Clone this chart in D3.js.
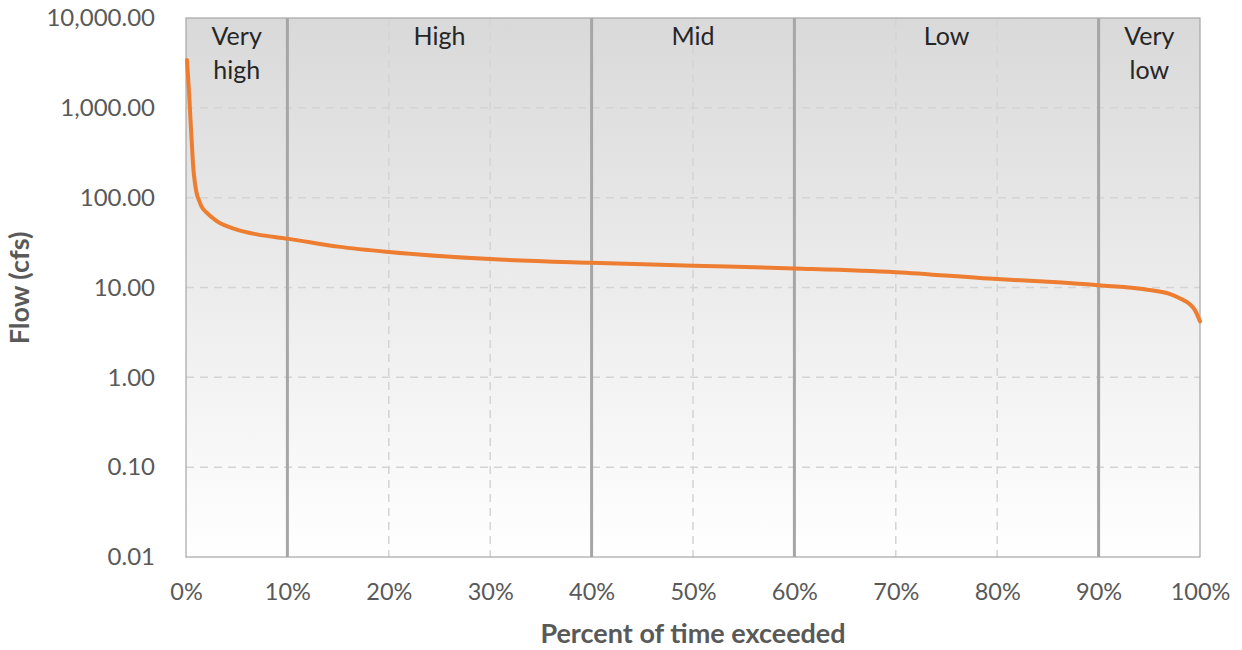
<!DOCTYPE html>
<html><head><meta charset="utf-8">
<script src="https://cdn.jsdelivr.net/npm/d3@7"></script>
<style>body{margin:0;background:#fff}svg{display:block}</style>
</head><body>
<svg id="c" width="1242" height="650"></svg>
<script>
const pct = [0.1, 0.3, 0.46, 0.6, 0.72, 0.88, 1.05, 1.3, 1.55, 2.04, 3, 5, 7, 10, 15, 20, 30, 40, 50, 60, 70, 80, 85, 90, 95, 97, 98, 99, 99.5, 100];
const flow = [3400, 1500, 680, 356, 214, 146, 112, 92, 79, 68, 55, 44, 39, 35, 28.5, 24.8, 20.7, 18.8, 17.5, 16.3, 14.8, 12.4, 11.6, 10.6, 9.4, 8.5, 7.6, 6.5, 5.6, 4.2];
const yTicks = [0.01, 0.1, 1, 10, 100, 1000, 10000];
const xTicks = [0, 10, 20, 30, 40, 50, 60, 70, 80, 90, 100];
const zoneBounds = [10, 40, 60, 90];
const zones = [{lines:["Very","high"], from:0, to:10}, {lines:["High"], from:10, to:40}, {lines:["Mid"], from:40, to:60}, {lines:["Low"], from:60, to:90}, {lines:["Very","low"], from:90, to:100}];

const svg = d3.select("#c");
const L = 186, R = 1200, T = 18, B = 557;
const x = d3.scaleLinear().domain([0, 100]).range([L, R]);
const y = d3.scaleLog().domain([0.01, 10000]).range([B, T]);
const font = "Lato, 'Open Sans', sans-serif";

const defs = svg.append("defs");
const g = defs.append("linearGradient").attr("id","bg").attr("x1",0).attr("y1",0).attr("x2",0).attr("y2",1);
g.append("stop").attr("offset","0%").attr("stop-color","#d9d9d9");
g.append("stop").attr("offset","100%").attr("stop-color","#ffffff");
svg.append("rect").attr("x",L).attr("y",T).attr("width",R-L).attr("height",B-T).attr("fill","url(#bg)");

// horizontal gridlines
svg.append("g").selectAll("line").data(yTicks.slice(1,-1)).join("line")
  .attr("x1",L).attr("x2",R).attr("y1",d=>y(d)).attr("y2",d=>y(d))
  .attr("stroke","#d4d4d4").attr("stroke-width",1.5).attr("stroke-dasharray","8,6");
// vertical dashed gridlines
svg.append("g").selectAll("line").data(xTicks.filter(d=>d>0&&d<100&&!zoneBounds.includes(d))).join("line")
  .attr("x1",d=>x(d)).attr("x2",d=>x(d)).attr("y1",T).attr("y2",B)
  .attr("stroke","#d4d4d4").attr("stroke-width",1.5).attr("stroke-dasharray","8,6");
// border
svg.append("rect").attr("x",L).attr("y",T).attr("width",R-L).attr("height",B-T).attr("fill","none").attr("stroke","#a6a6a6").attr("stroke-width",1.2);
// zone lines
svg.append("g").selectAll("line").data(zoneBounds).join("line")
  .attr("x1",d=>x(d)).attr("x2",d=>x(d)).attr("y1",T).attr("y2",B)
  .attr("stroke","#a6a6a6").attr("stroke-width",3);

// zone labels
zones.forEach(z=>{
  const t = svg.append("text").attr("x", x((z.from+z.to)/2)).attr("text-anchor","middle")
    .attr("font-family",font).attr("font-size",25).attr("fill","#262626");
  z.lines.forEach((l,i)=>t.append("tspan").attr("x",x((z.from+z.to)/2)).attr("y",45+i*34).text(l));
});

// y axis labels
const yAxis = d3.axisLeft(y).tickValues(yTicks).tickSize(0).tickPadding(31).tickFormat(d3.format(",.2f"));
const ya = svg.append("g").attr("transform",`translate(${L},0)`).call(yAxis);
ya.select(".domain").remove();
ya.selectAll("text").attr("font-family",font).attr("font-size",24).attr("fill","#595959");

// x axis labels
const xAxis = d3.axisBottom(x).tickValues(xTicks).tickSize(0).tickPadding(26).tickFormat(d=>d+"%");
const xa = svg.append("g").attr("transform",`translate(0,${B})`).call(xAxis);
xa.select(".domain").remove();
xa.selectAll("text").attr("font-family",font).attr("font-size",23.5).attr("fill","#595959");

// line
const line = d3.line().x((d,i)=>x(pct[i])).y(d=>y(d)).curve(d3.curveMonotoneX);
svg.append("path").datum(flow).attr("d",line).attr("fill","none").attr("stroke","#ed7d31").attr("stroke-width",4).attr("stroke-linejoin","round").attr("stroke-linecap","round");

// axis titles
svg.append("text").attr("x",693).attr("y",643).attr("text-anchor","middle").attr("font-family",font).attr("font-weight","bold").attr("font-size",27).attr("fill","#595959").text("Percent of time exceeded");
svg.append("text").attr("transform","translate(29,288) rotate(-90)").attr("text-anchor","middle").attr("font-family",font).attr("font-weight","bold").attr("font-size",27).attr("fill","#595959").text("Flow (cfs)");
</script>
</body></html>
